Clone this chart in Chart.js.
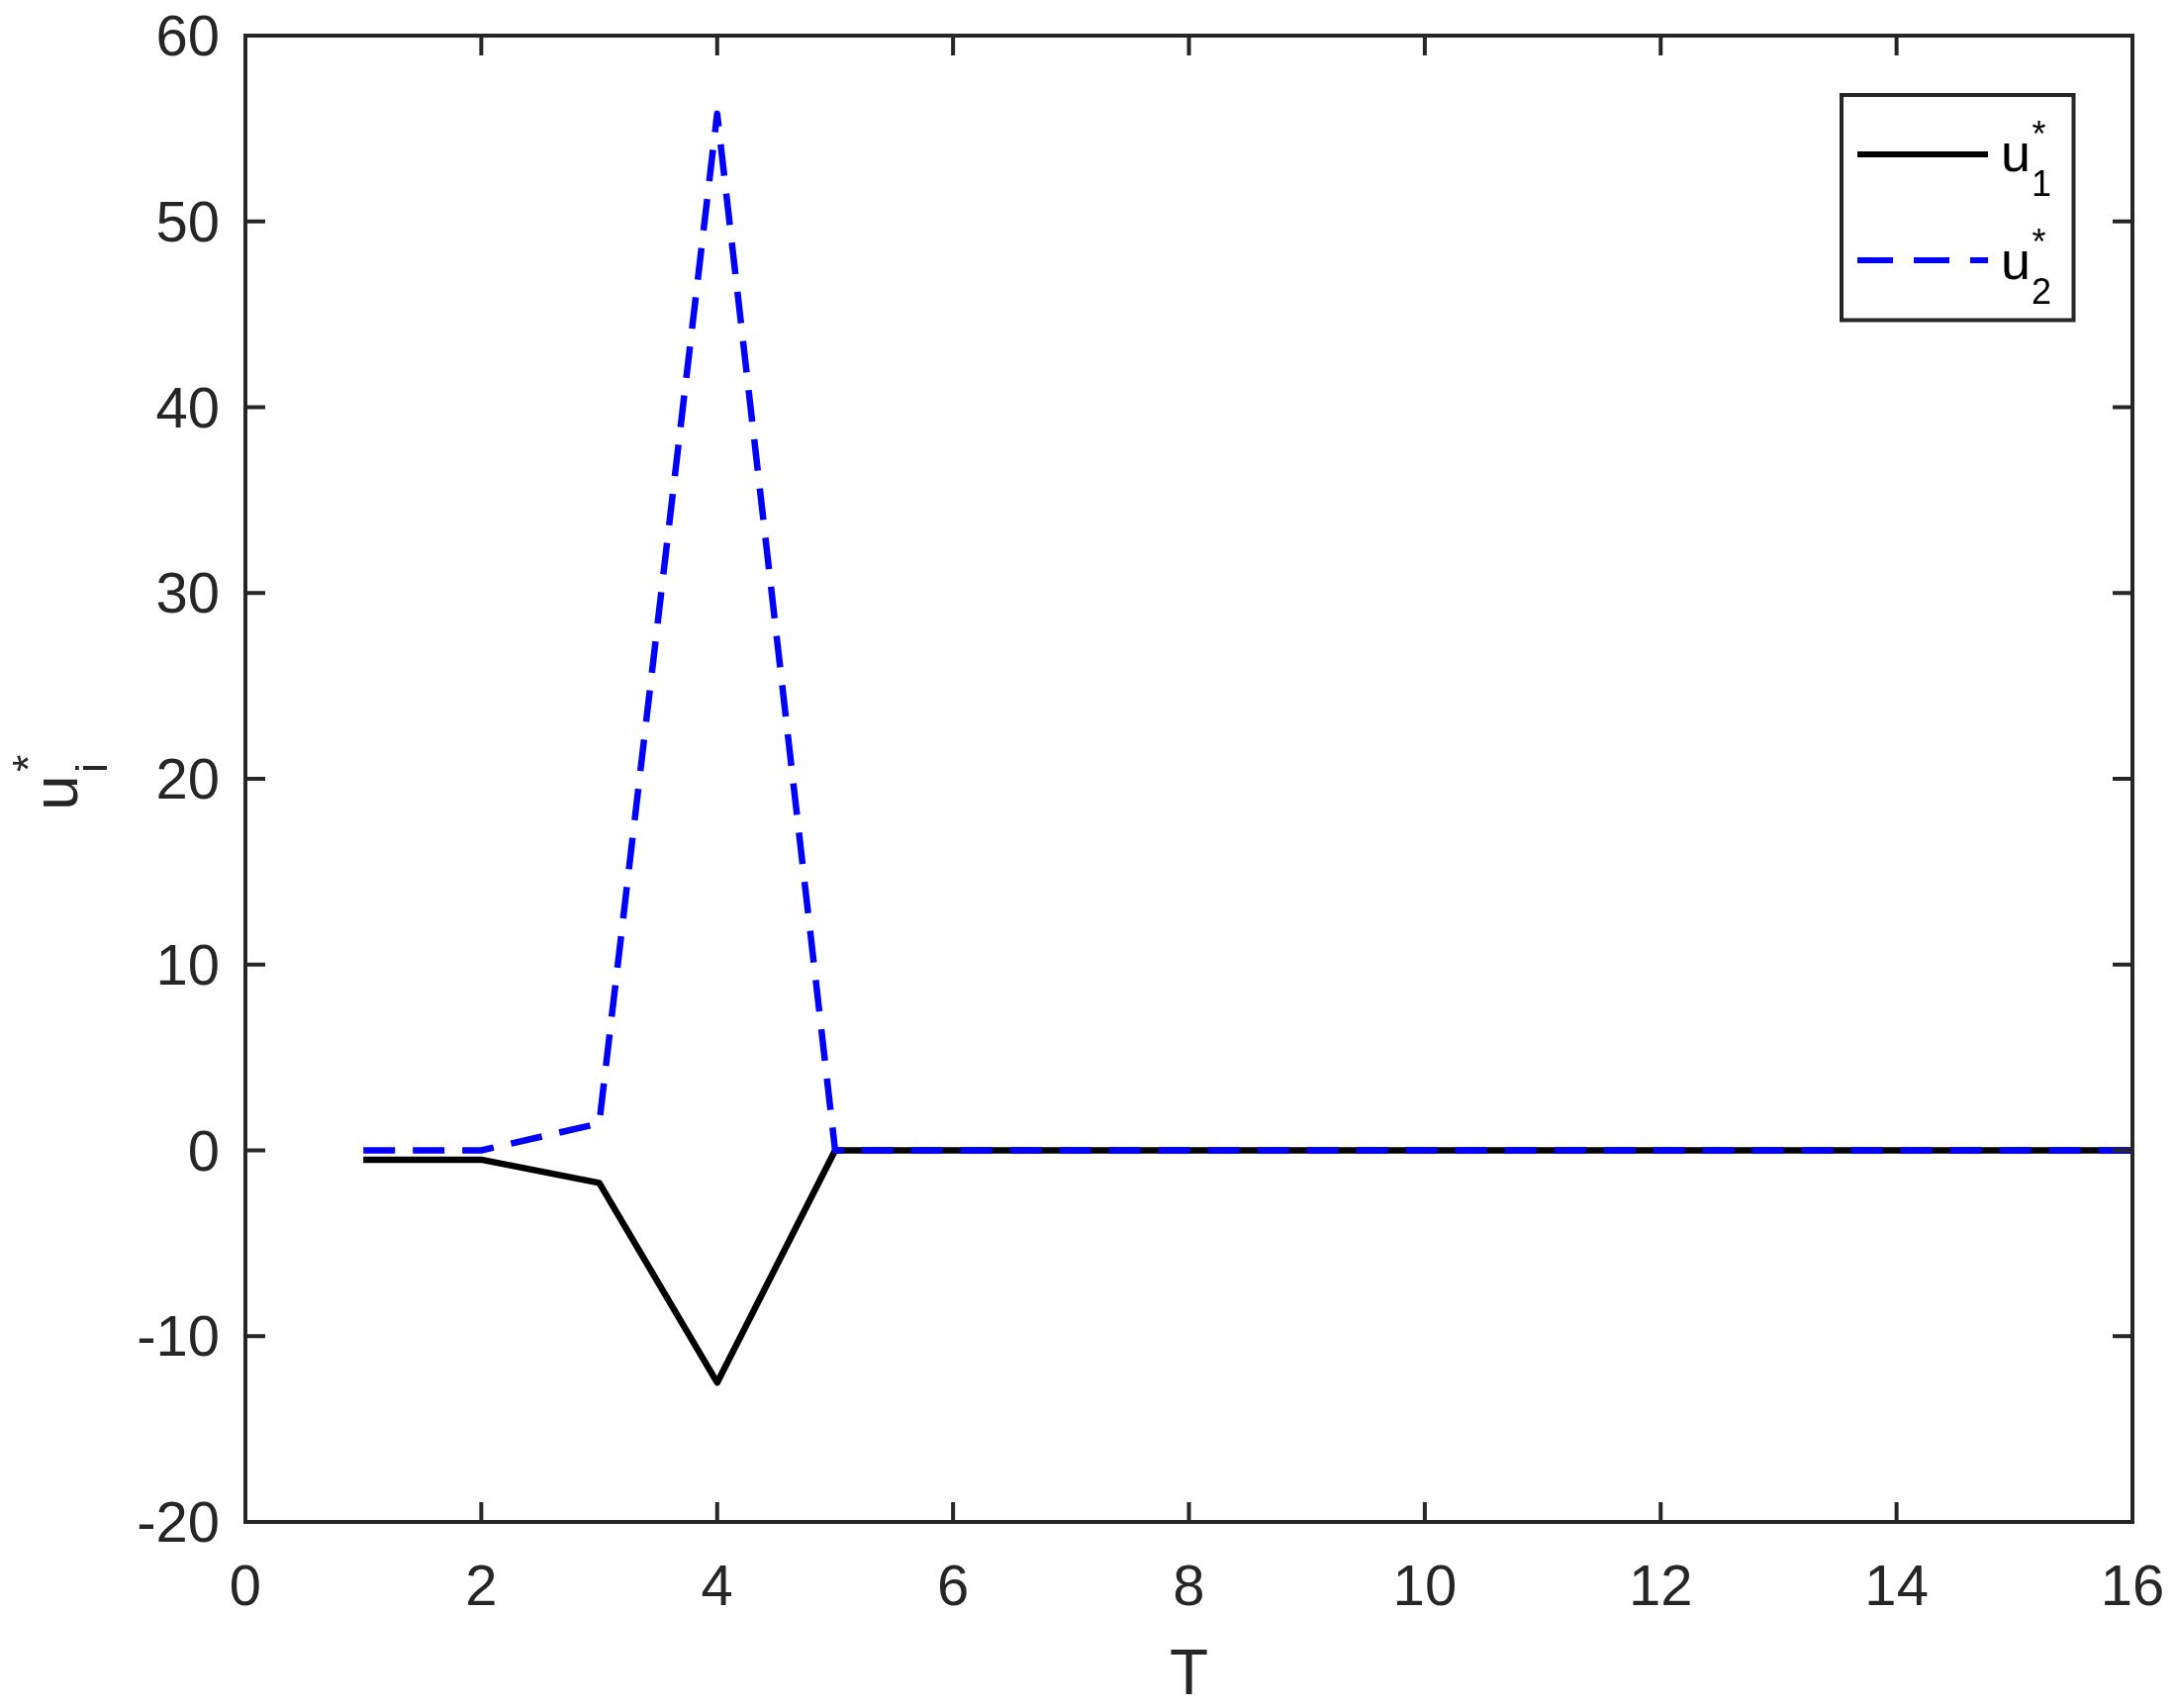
<!DOCTYPE html>
<html>
<head>
<meta charset="utf-8">
<script src="https://cdn.jsdelivr.net/npm/chart.js@4/dist/chart.umd.min.js"></script>
<style>
  html, body { margin: 0; padding: 0; background: #ffffff; }
  #wrap { width: 2199px; height: 1726px; position: relative; }
</style>
</head>
<body>
<div id="wrap"><canvas id="c" width="2199" height="1726"></canvas></div>
<script>
// ---- data ----
const T = [1, 2, 3, 4, 5, 6, 7, 8, 9, 10, 11, 12, 13, 14, 15, 16];
const u1 = [-0.5, -0.5, -1.75, -12.5, 0, 0, 0, 0, 0, 0, 0, 0, 0, 0, 0, 0];
const u2 = [0, 0, 1.45, 55.8, 0, 0, 0, 0, 0, 0, 0, 0, 0, 0, 0, 0];
const xTicks = [0, 2, 4, 6, 8, 10, 12, 14, 16];
const yTicks = [-20, -10, 0, 10, 20, 30, 40, 50, 60];
const seriesNames = ['u1', 'u2'];
const xLabel = 'T';

const FONT = '"Liberation Sans", Arial, Helvetica, sans-serif';
const AX = '#262626';

const pts = (ys) => T.map((t, i) => ({ x: t, y: ys[i] }));

const decor = {
  id: 'decor',
  afterDraw(chart) {
    const ctx = chart.ctx;
    const a = chart.chartArea;
    const xs = chart.scales.x, ys = chart.scales.y;
    ctx.save();
    // box
    ctx.strokeStyle = AX;
    ctx.lineWidth = 4;
    ctx.strokeRect(a.left, a.top, a.right - a.left, a.bottom - a.top);
    // inner ticks on all sides
    const TL = 20;
    ctx.beginPath();
    xTicks.forEach(v => {
      const px = xs.getPixelForValue(v);
      ctx.moveTo(px, a.bottom); ctx.lineTo(px, a.bottom - TL);
      ctx.moveTo(px, a.top); ctx.lineTo(px, a.top + TL);
    });
    yTicks.forEach(v => {
      const py = ys.getPixelForValue(v);
      ctx.moveTo(a.left, py); ctx.lineTo(a.left + TL, py);
      ctx.moveTo(a.right, py); ctx.lineTo(a.right - TL, py);
    });
    ctx.stroke();

    // x title
    ctx.fillStyle = AX;
    ctx.font = '64px ' + FONT;
    ctx.textAlign = 'center';
    ctx.textBaseline = 'alphabetic';
    ctx.fillText(xLabel, (a.left + a.right) / 2, a.bottom + 174);

    // y title: u_i^*
    ctx.save();
    ctx.translate(78, 819);
    ctx.rotate(-Math.PI / 2);
    ctx.textAlign = 'left';
    ctx.font = '64px ' + FONT;
    ctx.fillText('u', 0, 0);
    ctx.font = '45px ' + FONT;
    ctx.fillText('i', 38, 30);
    ctx.fillText('*', 39, -34);
    ctx.restore();

    // legend
    const bx2 = a.right - 59.5, by1 = a.top + 60;
    const bw = 234.5, bh = 227.5;
    const bx1 = bx2 - bw;
    ctx.fillStyle = '#ffffff';
    ctx.fillRect(bx1, by1, bw, bh);
    ctx.strokeStyle = AX;
    ctx.lineWidth = 4;
    ctx.strokeRect(bx1, by1, bw, bh);
    const entries = [
      { color: '#000000', dash: [], sub: '1', lineY: by1 + 60, base: by1 + 77 },
      { color: '#0000ff', dash: [36, 21], sub: '2', lineY: by1 + 167, base: by1 + 186 }
    ];
    entries.forEach(e => {
      ctx.strokeStyle = e.color;
      ctx.lineWidth = 6;
      ctx.setLineDash(e.dash);
      ctx.beginPath();
      ctx.moveTo(bx1 + 16, e.lineY);
      ctx.lineTo(bx1 + 148, e.lineY);
      ctx.stroke();
      ctx.setLineDash([]);
      ctx.fillStyle = '#000000';
      ctx.textAlign = 'left';
      ctx.font = '54px ' + FONT;
      ctx.fillText('u', bx1 + 161, e.base);
      ctx.font = '36px ' + FONT;
      ctx.fillText(e.sub, bx1 + 192, e.base + 25);
      ctx.fillText('*', bx1 + 192.5, e.base - 25.5);
    });
    ctx.restore();
  }
};

new Chart(document.getElementById('c'), {
  type: 'line',
  data: {
    datasets: [
      { label: seriesNames[0], data: pts(u1), borderColor: '#000000', borderWidth: 6.5,
        pointRadius: 0, tension: 0, fill: false, order: 1, borderJoinStyle: 'round' },
      { label: seriesNames[1], data: pts(u2), borderColor: '#0000ff', borderWidth: 6.5,
        borderDash: [32, 18], pointRadius: 0, tension: 0, fill: false, order: 0, borderJoinStyle: 'round' }
    ]
  },
  options: {
    responsive: false,
    animation: false,
    devicePixelRatio: 1,
    layout: { padding: { left: 0, top: 36, right: 44, bottom: 0 } },
    plugins: { legend: { display: false }, tooltip: { enabled: false }, title: { display: false } },
    scales: {
      x: {
        type: 'linear', min: 0, max: 16,
        afterBuildTicks: (s) => { s.ticks = xTicks.map(v => ({ value: v })); },
        afterFit: (s) => { s.height = 188; s.paddingLeft = 0; s.paddingRight = 0; s.paddingTop = 0; s.paddingBottom = 0; },
        grid: { display: false, drawTicks: false },
        border: { display: false },
        ticks: { color: AX, font: { family: FONT, size: 58 }, padding: 33, maxRotation: 0, autoSkip: false }
      },
      y: {
        type: 'linear', min: -20, max: 60,
        afterBuildTicks: (s) => { s.ticks = yTicks.map(v => ({ value: v })); },
        afterFit: (s) => { s.width = 248; s.paddingLeft = 0; s.paddingRight = 0; s.paddingTop = 0; s.paddingBottom = 0; },
        grid: { display: false, drawTicks: false },
        border: { display: false },
        ticks: { color: AX, font: { family: FONT, size: 58 }, padding: 26, labelOffset: 4, autoSkip: false }
      }
    }
  },
  plugins: [decor]
});
</script>
</body>
</html>
